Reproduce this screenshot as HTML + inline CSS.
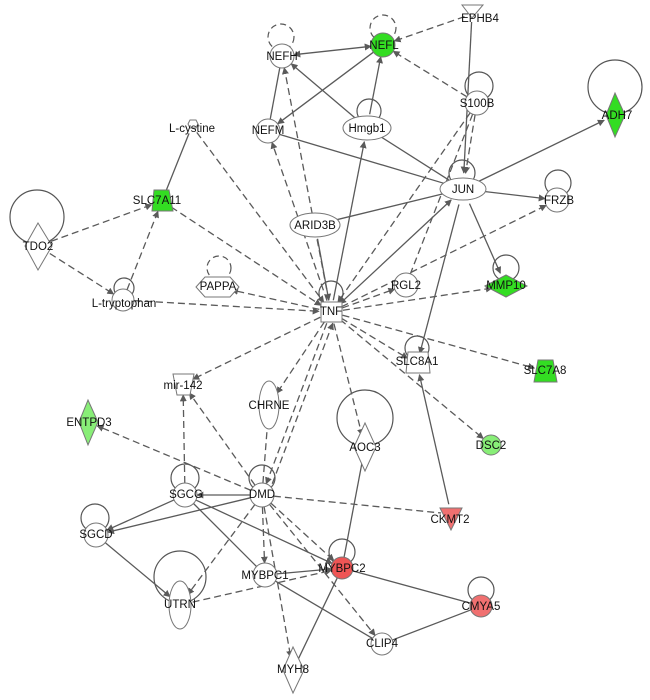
<!DOCTYPE html>
<html><head><meta charset="utf-8"><style>
html,body{margin:0;padding:0;background:#fff;}
svg{display:block;font-family:"Liberation Sans",Arial,sans-serif;}
text{font-size:11.5px;fill:#111;text-anchor:middle;dominant-baseline:central;}
</style></head><body>
<svg id="s" width="650" height="700" viewBox="0 0 650 700" xmlns="http://www.w3.org/2000/svg">
<defs><marker id="a" viewBox="0 0 10 10" refX="9" refY="5" markerWidth="7" markerHeight="7" orient="auto-start-reverse" markerUnits="userSpaceOnUse"><path d="M0,0L10,5L0,10z" fill="#5a5a5a"/></marker></defs>
<g id="loops" fill="none" stroke="#555" stroke-width="1.2"></g>
<g id="edges" fill="none" stroke="#5a5a5a" stroke-width="1.3"></g>
<g id="nodes" stroke="#777" stroke-width="1"></g>
<g id="labels"></g>
</svg>
<script>
var N={
EPHB4:[472,14,8],NEFL:[383,45,12],NEFH:[282,56,12],ADH7:[615,115,12],S100B:[477,103,12],
Lcys:[192,126,8],NEFM:[268,131,12],Hmgb1:[367,128,14],JUN:[463,189,16],FRZB:[557,200,12],
SLC7A11:[162,201,11],ARID3B:[315,225,14],TDO2:[38,246,14],PAPPA:[218,287,14],RGL2:[406,285,12],
MMP10:[506,286,14],Ltrp:[123,300,11],TNF:[331,312,12],SLC8A1:[417,364,11],SLC7A8:[545,371,11],
mir:[183,384,11],CHRNE:[269,405,14],ENTPD3:[88,422,10],AOC3:[365,447,12],DSC2:[491,445,10],
SGCG:[185,495,12],DMD:[262,495,12],CKMT2:[451,514,10],SGCD:[96,535,12],MYBPC2:[342,568,11],
MYBPC1:[265,575,12],UTRN:[180,605,13],CMYA5:[481,606,11],CLIP4:[382,644,11],MYH8:[293,670,13]};
// [from,to,dashed,arrowEnd,arrowStart]
var E=[
['NEFH','NEFL',0,1,1],['NEFL','NEFM',0,1],['Hmgb1','NEFH',0,1],['NEFH','NEFM',0,0],['Hmgb1','NEFL',0,1],
['EPHB4','JUN',0,1],['NEFM','JUN',0,0],['Hmgb1','JUN',0,0],['JUN','ADH7',0,1],['JUN','FRZB',0,1],
['JUN','MMP10',0,1],['ARID3B','JUN',0,0],['TNF','Hmgb1',0,1],['TNF','JUN',0,1,1],['JUN','SLC8A1',0,1],
['ARID3B','TNF',0,1],['CKMT2','SLC8A1',0,1],['DMD','SGCG',0,1],['SGCG','SGCD',0,1],['DMD','SGCD',0,1],
['SGCG','MYBPC1',0,0],['SGCG','MYBPC2',0,1],['SGCD','UTRN',0,1],['MYBPC1','MYBPC2',0,1],['MYBPC1','CLIP4',0,0],
['MYBPC2','CMYA5',0,0],['CMYA5','CLIP4',0,0],['MYBPC2','AOC3',0,0],['MYBPC2','MYH8',0,0],['Lcys','SLC7A11',0,0],
['EPHB4','NEFL',1,1],['S100B','NEFL',1,1],['S100B','JUN',1,1],['S100B','RGL2',1,0],['S100B','TNF',1,1],
['TDO2','SLC7A11',1,1],['TDO2','Ltrp',1,1],['Ltrp','SLC7A11',1,1],['Ltrp','TNF',1,1],['SLC7A11','TNF',1,1],
['Lcys','TNF',1,1],['TNF','PAPPA',1,1],['TNF','NEFM',1,1],['TNF','NEFH',1,1],['TNF','RGL2',1,1],
['TNF','MMP10',1,1],['TNF','FRZB',1,1],['TNF','SLC8A1',1,1],['TNF','SLC7A8',1,1],['TNF','DSC2',1,1],
['TNF','AOC3',1,1],['TNF','CHRNE',1,1],['TNF','mir',1,1],['TNF','DMD',1,1],['DMD','TNF',1,1],
['DMD','mir',1,1],['SGCG','mir',1,1],['DMD','ENTPD3',1,1],['DMD','CHRNE',1,1],['DMD','CKMT2',1,0],
['DMD','UTRN',1,1],['DMD','MYBPC1',1,1],['DMD','MYH8',1,1],['DMD','MYBPC2',1,1],['DMD','CLIP4',1,1],['UTRN','MYBPC2',1,1]];
var ns='http://www.w3.org/2000/svg';
function el(p,t,a,tx){var e=document.createElementNS(ns,t);for(var k in a)e.setAttribute(k,a[k]);if(tx)e.textContent=tx;document.getElementById(p).appendChild(e);return e;}
E.forEach(function(e){var a=N[e[0]],b=N[e[1]];var dx=b[0]-a[0],dy=b[1]-a[1],L=Math.hypot(dx,dy),ux=dx/L,uy=dy/L;
 if(e[0]=='DMD'&&e[1]=='TNF'){a=[a[0]+6,a[1],a[2]];b=[b[0]+6,b[1],b[2]];}
 var x1=a[0]+ux*a[2],y1=a[1]+uy*a[2],x2=b[0]-ux*b[2],y2=b[1]-uy*b[2];
 var at={x1:x1,y1:y1,x2:x2,y2:y2};if(e[2])at['stroke-dasharray']='7,4';if(e[3])at['marker-end']='url(#a)';if(e[4])at['marker-start']='url(#a)';
 el('edges','line',at);});
// loops [cx,cy,r,dashed]
[[281,37,13,1],[383,28,13,1],[615,87,27,0],[479,86,14,0],[369,111,12,0],[462,173,13,0],[558,183,13,0],
[37,217,27,0],[124,288,10,0],[219,268,12,1],[331,293,12,0],[506,268,13,0],[417,348,12,0],[365,418,28,0],
[185,478,14,0],[262,478,13,0],[95,518,14,0],[342,552,13,0],[180,577,26,0],[481,590,13,0]].forEach(function(l){
 var at={cx:l[0],cy:l[1],r:l[2]};if(l[3])at['stroke-dasharray']='6,4';el('loops','circle',at);});
var W='#fff',G='#33dd22',LG='#88ee77',R='#ee5555',LR='#f07070';
function circ(n,r,f){el('nodes','circle',{cx:N[n][0],cy:N[n][1],r:r,fill:f});}
function ell(n,rx,ry,f){el('nodes','ellipse',{cx:N[n][0],cy:N[n][1],rx:rx,ry:ry,fill:f});}
function poly(pts,f){el('nodes','polygon',{points:pts,fill:f});}
poly('462,5 483,5 472,18',W);
circ('NEFL',12,G);circ('NEFH',12,W);circ('S100B',12,W);circ('NEFM',12,W);
poly('606,115 615,93 625,115 615,137',G);
poly('188,124 190,120 196,120 198,124 196,128 190,128',W);
ell('Hmgb1',24,12,W);ell('JUN',23,11,W);circ('FRZB',12,W);
poly('154,190 169,190 173,211 152,211',G);
ell('ARID3B',25,12,W);
poly('25,246 38,223 52,246 38,270',W);
poly('196,287 205,277 230,277 239,287 230,297 205,297',W);
circ('RGL2',12,W);
poly('485,286 506,275 527,286 506,297',G);
circ('Ltrp',11,W);
poly('321,302 342,302 342,322 321,322',W);
poly('408,352 428,352 430,373 406,373',W);
poly('538,360 553,360 557,382 534,382',G);
poly('173,374 194,374 190,395 177,395',W);
ell('CHRNE',10,24,W);
poly('79,422 88,400 98,422 88,445',LG);
poly('354,447 365,423 376,447 365,471',W);
circ('DSC2',10,LG);
circ('SGCG',12,W);circ('DMD',12,W);
poly('440,508 462,508 451,530',LR);
circ('SGCD',12,W);circ('MYBPC2',11,R);circ('MYBPC1',12,W);
ell('UTRN',11,24,W);circ('CMYA5',11,LR);circ('CLIP4',11,W);
poly('283,670 293,647 304,670 293,693',W);
var Lb=[['EPHB4',480,19],['NEFL',384,46],['NEFH',282,57],['ADH7',617,116],['S100B',477,104],['L-cystine',192,129],
['NEFM',268,131],['Hmgb1',367,129],['JUN',463,190],['FRZB',559,201],['SLC7A11',157,201],['ARID3B',315,226],
['TDO2',38,247],['PAPPA',218,287],['RGL2',406,286],['MMP10',506,286],['L-tryptophan',124,304],['TNF',331,312],
['SLC8A1',417,362],['SLC7A8',545,371],['mir-142',183,386],['CHRNE',269,406],['ENTPD3',89,423],['AOC3',365,448],
['DSC2',491,446],['SGCG',186,495],['DMD',262,495],['CKMT2',450,520],['SGCD',96,535],['MYBPC2',342,569],
['MYBPC1',265,576],['UTRN',180,605],['CMYA5',481,607],['CLIP4',382,644],['MYH8',293,670]];
Lb.forEach(function(l){el('labels','text',{x:l[1],y:l[2]},l[0]);});
</script>
</body></html>
